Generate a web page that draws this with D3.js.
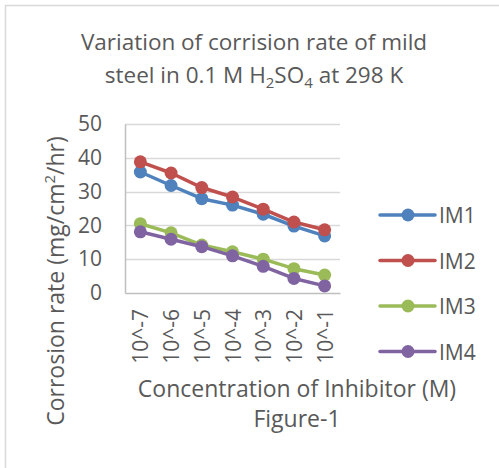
<!DOCTYPE html>
<html>
<head>
<meta charset="utf-8">
<script src="https://cdn.jsdelivr.net/npm/d3@7"></script>
<style>
  html, body { margin: 0; padding: 0; background: #fff; }
  svg { display: block; }
  text { font-family: "Open Sans", "Noto Sans", sans-serif; fill: #595959; }
</style>
</head>
<body>
<svg id="chart" width="499" height="468"></svg>
<script>
// Inhibitor concentrations (M)
const concentrations = ["10^-7", "10^-6", "10^-5", "10^-4", "10^-3", "10^-2", "10^-1"];
const seriesNames = ["IM1", "IM2", "IM3", "IM4"];
const seriesColors = ["#4F81BD", "#C0504D", "#9BBB59", "#8064A2"];
// Corrosion rate (mg/cm²/hr)
const im1 = [35.8, 31.8, 27.9, 26.0, 23.3, 19.8, 16.9];
const im2 = [38.8, 35.5, 31.2, 28.4, 24.8, 21.0, 18.7];
const im3 = [20.5, 17.8, 14.2, 12.2, 10.0, 7.2, 5.3];
const im4 = [18.1, 15.9, 13.7, 11.0, 7.9, 4.3, 2.1];
const yTicks = [0, 10, 20, 30, 40, 50];

const seriesValues = [im1, im2, im3, im4];
const series = seriesNames.map((name, i) => ({
  name, color: seriesColors[i],
  points: concentrations.map((c, j) => ({ c, v: seriesValues[i][j] }))
}));

const svg = d3.select("#chart");

// outer chart frame
svg.append("rect")
  .attr("x", 5.5).attr("y", 5.5)
  .attr("width", 600).attr("height", 600)
  .attr("fill", "#fff").attr("stroke", "#d9d9d9").attr("stroke-width", 1.5);

const plot = { left: 125, right: 340, top: 124, bottom: 293 };

const x = d3.scaleBand().domain(concentrations).range([plot.left, plot.right]).padding(0);
const cx = c => x(c) + x.bandwidth() / 2;
const y = d3.scaleLinear().domain([0, 50]).range([plot.bottom, plot.top]);

// horizontal gridlines
svg.append("g")
  .selectAll("line")
  .data(yTicks.filter(t => t > 0))
  .join("line")
  .attr("x1", plot.left).attr("x2", plot.right)
  .attr("y1", d => Math.round(y(d)) + 0.5).attr("y2", d => Math.round(y(d)) + 0.5)
  .attr("stroke", "#d9d9d9").attr("stroke-width", 1.5);

// value axis
const yAxis = svg.append("g")
  .attr("transform", `translate(${plot.left},0)`)
  .call(d3.axisLeft(y).tickValues(yTicks).tickSize(0).tickPadding(23).tickFormat(d3.format("d")));
yAxis.select(".domain").attr("stroke", "#bfbfbf").attr("stroke-width", 1.5);
yAxis.selectAll("text").attr("font-size", 21).attr("fill", "#595959")
  .style("font-family", "'Open Sans', sans-serif");

// category axis
const xAxis = svg.append("g")
  .attr("transform", `translate(0,${plot.bottom})`)
  .call(d3.axisBottom(x).tickSize(0).tickPadding(0));
xAxis.select(".domain").attr("stroke", "#bfbfbf").attr("stroke-width", 1.5);
xAxis.selectAll("text")
  .attr("font-size", 21).attr("fill", "#595959")
  .style("font-family", "'Open Sans', sans-serif")
  .attr("text-anchor", "end")
  .attr("dy", null)
  .attr("transform", "translate(0,16) rotate(-90)")
  .attr("x", 0).attr("y", 0)
  .attr("dominant-baseline", "central");

// series lines and markers
const line = d3.line().x(d => cx(d.c)).y(d => y(d.v));
const sg = svg.append("g").selectAll("g").data(series).join("g");
sg.append("path")
  .attr("d", d => line(d.points))
  .attr("fill", "none").attr("stroke", d => d.color)
  .attr("stroke-width", 3.5).attr("stroke-linejoin", "round").attr("stroke-linecap", "round");
sg.selectAll("circle")
  .data(d => d.points.map(p => ({ ...p, color: d.color })))
  .join("circle")
  .attr("cx", d => cx(d.c)).attr("cy", d => y(d.v)).attr("r", 6.5)
  .attr("fill", d => d.color);

// legend
const legend = svg.append("g").selectAll("g").data(series).join("g")
  .attr("transform", (d, i) => `translate(380,${215 + i * 45.5})`);
legend.append("line")
  .attr("x1", 0).attr("x2", 55).attr("y1", 0).attr("y2", 0)
  .attr("stroke", d => d.color).attr("stroke-width", 3.5).attr("stroke-linecap", "round");
legend.append("circle").attr("cx", 28).attr("cy", 0).attr("r", 6.5).attr("fill", d => d.color);
legend.append("text")
  .attr("x", 59).attr("y", 0).attr("dominant-baseline", "central")
  .attr("font-size", 21).text(d => d.name);

// chart title
const title = svg.append("text").attr("text-anchor", "middle").attr("font-size", 22.5);
title.append("tspan").attr("x", 254).attr("y", 50).text("Variation of corrision rate of mild");
const t2 = title.append("tspan").attr("x", 254).attr("y", 83);
t2.text("steel in 0.1 M H");
title.append("tspan").attr("font-size", 15).attr("dy", 5).text("2");
title.append("tspan").attr("dy", -5).text("SO");
title.append("tspan").attr("font-size", 15).attr("dy", 5).text("4");
title.append("tspan").attr("dy", -5).text(" at 298 K");

// value axis title
const yt = svg.append("text")
  .attr("text-anchor", "middle").attr("font-size", 23)
  .attr("transform", "translate(64,281) rotate(-90)");
yt.append("tspan").text("Corrosion rate (mg/cm");
yt.append("tspan").attr("font-size", 15).attr("dy", -9).text("2");
yt.append("tspan").attr("dy", 9).text("/hr)");

// category axis title and figure caption
svg.append("text").attr("x", 297).attr("y", 397).attr("text-anchor", "middle")
  .attr("font-size", 23).text("Concentration of Inhibitor (M)");
svg.append("text").attr("x", 297).attr("y", 427).attr("text-anchor", "middle")
  .attr("font-size", 23).text("Figure-1");
</script>
</body>
</html>
